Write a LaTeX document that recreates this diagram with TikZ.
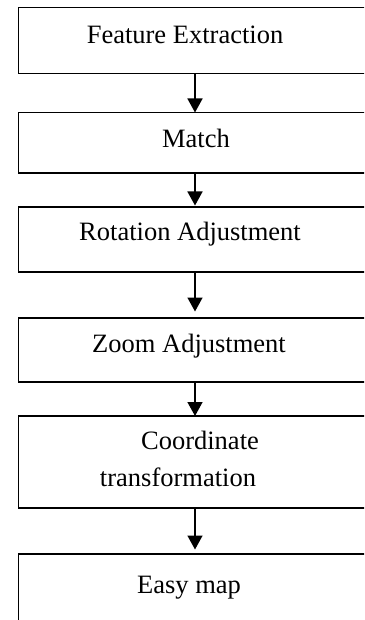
\documentclass[tikz,border=0pt]{standalone}
\usepackage{fontspec}
\setmainfont{Liberation Serif}
\usetikzlibrary{arrows.meta}
\begin{document}
\begin{tikzpicture}[x=1pt,y=-1pt,
  stepbox/.style={draw=black, line width=1.6pt, rectangle, outer sep=0pt, inner sep=0pt,
                  minimum width=401.5pt},
  steptext/.style={anchor=base, inner sep=0pt, font=\fontsize{26.5}{30}\selectfont},
  flow/.style={line width=1.5pt, -{Triangle[width=15pt,length=14pt]}}]
  \useasboundingbox (0,0) rectangle (364,620);
  \clip (0,0) rectangle (364,620);

  % process boxes (left edge at x = 18.5, running past the right border)
  \node[stepbox, minimum height=66pt]   (b1) at (219.25,40.5)  {};
  \node[stepbox, minimum height=60.5pt] (b2) at (219.25,142.75) {};
  \node[stepbox, minimum height=65pt]   (b3) at (219.25,239.5) {};
  \node[stepbox, minimum height=64pt]   (b4) at (219.25,350)   {};
  \node[stepbox, minimum height=92pt]   (b5) at (219.25,462)   {};
  \node[stepbox, minimum height=106pt]  (b6) at (219.25,607)   {};

  % labels
  \node[steptext] (t1)  at (185,43.5)  {Feature Extraction};
  \node[steptext] (t2)  at (196,148)   {Match};
  \node[steptext] (t3)  at (190,240.7) {Rotation Adjustment};
  \node[steptext] (t4)  at (189,352.7) {Zoom Adjustment};
  \node[steptext] (t5a) at (200,449)   {Coordinate};
  \node[steptext] (t5b) at (178,486)   {transformation};
  \node[steptext] (t6)  at (189,593)   {Easy map};

  % connectors along the common axis
  \coordinate (ax) at (195,0);
  \draw[flow] (b1.south -| ax) -- (b2.north -| ax);
  \draw[flow, shorten >=1.5pt] (b2.south -| ax) -- (b3.north -| ax);
  \draw[flow, shorten >=6.5pt] (b3.south -| ax) -- (b4.north -| ax);
  \draw[flow] (b4.south -| ax) -- (b5.north -| ax);
  \draw[flow, shorten >=4.5pt] (b5.south -| ax) -- (b6.north -| ax);
\end{tikzpicture}
\end{document}
